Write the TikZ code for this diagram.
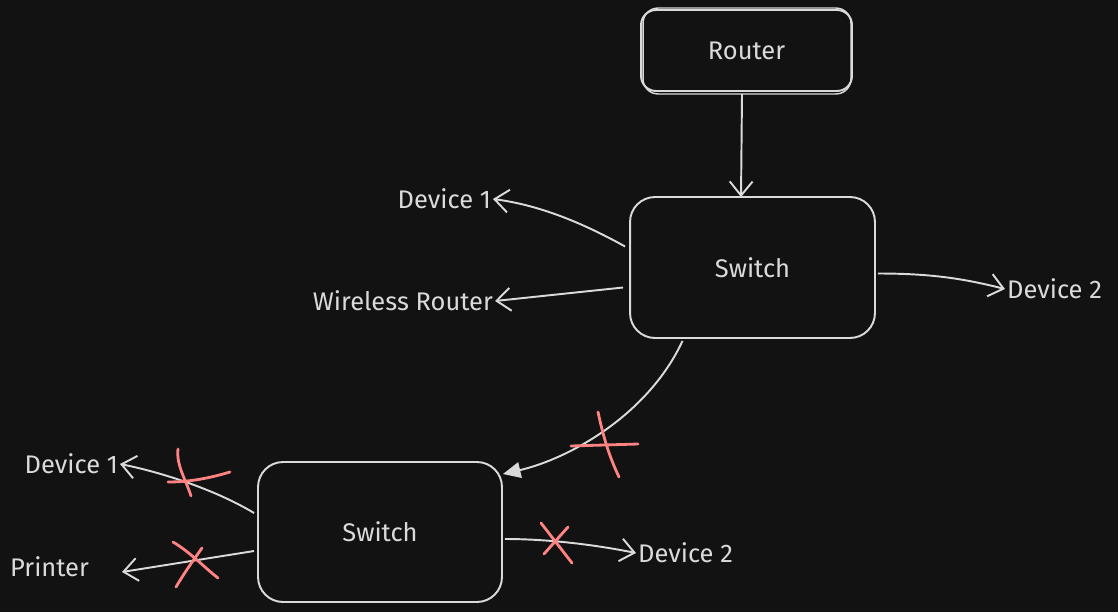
\documentclass[tikz,border=0pt]{standalone}
\usepackage{fontspec}
\setmainfont{Fira Sans}
\usetikzlibrary{arrows.meta}
\definecolor{bgdark}{HTML}{121212}
\definecolor{inkgray}{HTML}{DADADA}
\definecolor{crossred}{HTML}{FF8383}

\begin{document}
\begin{tikzpicture}[x=0.02cm, y=-0.02cm,
    box/.style={draw=inkgray, line width=1.1pt, text=inkgray, font=\fontsize{14.5}{17}\selectfont},
    lbl/.style={text=inkgray, inner sep=1pt, font=\fontsize{14.5}{17}\selectfont},
    link/.style={draw=inkgray, line width=1.1pt, -{Straight Barb[length=8pt,width=13pt,line width=1.1pt]}},
    cross/.style={draw=crossred, line width=1.6pt, line cap=round}]

        %Background
        \fill[bgdark] (0,0) rectangle (1118,612);

        %Boxes
        \node[box, rounded corners=0.3cm, minimum width=4.22cm, minimum height=1.62cm] (router) at (746.5,50.5) {Router};
        \draw[inkgray, line width=0.8pt, rounded corners=0.3cm] ([shift={(3,-1)}]router.north west) rectangle ([shift={(-2,2)}]router.south east);
        \node[box, rounded corners=0.5cm, minimum width=4.9cm, minimum height=2.82cm] (sw1) at (752.5,267.5) {Switch};
        \node[box, rounded corners=0.5cm, minimum width=4.88cm, minimum height=2.8cm] (sw2) at (380,532) {Switch};

        %Labels
        \node[lbl, anchor=east] (dev1a) at (493,199) {Device 1};
        \node[lbl, anchor=east] (wrouter) at (495,301) {Wireless Router};
        \node[lbl, anchor=west] (dev2a) at (1005,289) {Device 2};
        \node[lbl, anchor=east] (dev1b) at (120,464) {Device 1};
        \node[lbl, anchor=west] (printer) at (8,567) {Printer};
        \node[lbl, anchor=west] (dev2b) at (636,553) {Device 2};

        %Connectors first switch
        \draw[link] ([shift={(-4.5,2)}]router.south) -- ([shift={(-11.5,1)}]sw1.north);
        \draw[link] ([shift={(-4,-21)}]sw1.west) .. controls +(-45,-25) and +(45,6) .. (dev1a.east);
        \draw[link] ([shift={(-6,20)}]sw1.west) -- (wrouter.east);
        \draw[link] ([shift={(2,6)}]sw1.east) .. controls +(55,0) and +(-40,-10) .. (dev2a.west);
        \draw[draw=inkgray, line width=1.1pt, -{Triangle[length=10pt,width=9pt]}] ([shift={(-70,2)}]sw1.south) .. controls +(-35,75) and +(65,-15) .. ([shift={(0,-58)}]sw2.east);

        %Connectors second switch
        \draw[link] ([shift={(-3,-19)}]sw2.west) .. controls +(-40,-24) and +(40,8) .. (dev1b.east);
        \draw[link] ([shift={(-3,19)}]sw2.west) -- ([shift={(31,5)}]printer.east);
        \draw[link] ([shift={(2,7)}]sw2.east) .. controls +(45,0) and +(-40,-8) .. (dev2b.west);

        %Crosses
        \draw[cross] (598,412) .. controls (604,440) and (610,458) .. (619,477);
        \draw[cross] (571,446) -- (638,444);
        \draw[cross] (178,449) .. controls (176,465) and (186,480) .. (191,496);
        \draw[cross] (168,482) .. controls (190,482) and (210,478) .. (230,472);
        \draw[cross] (173,542) .. controls (190,552) and (205,568) .. (218,578);
        \draw[cross] (202,548) .. controls (192,562) and (183,575) .. (176,587);
        \draw[cross] (541,523) -- (572,563);
        \draw[cross] (568,527) -- (544,554);

\end{tikzpicture}
\end{document}
